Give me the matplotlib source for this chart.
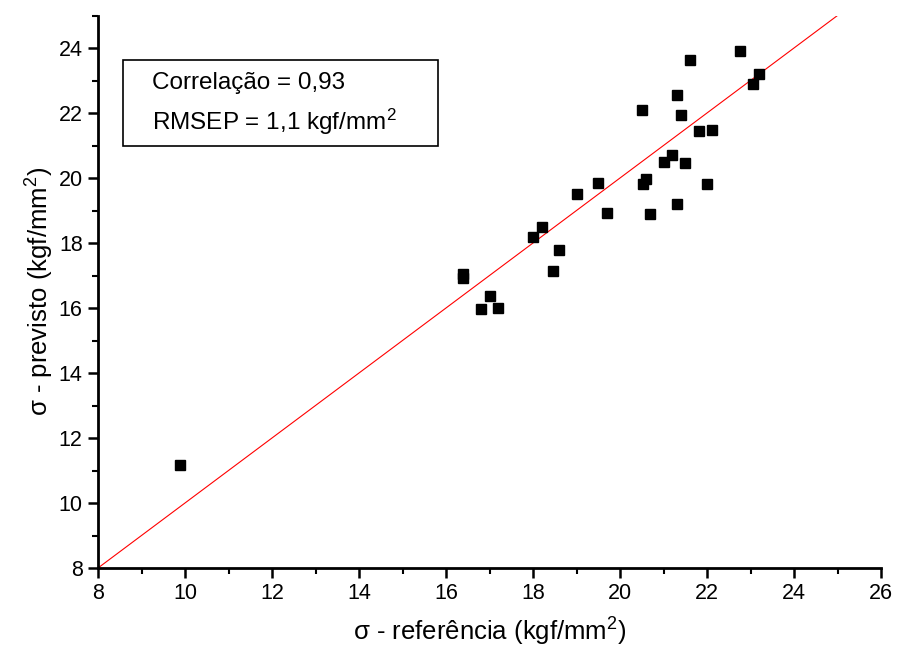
import matplotlib
matplotlib.use("Agg")
import matplotlib.pyplot as plt
from matplotlib.patches import Rectangle
from matplotlib.ticker import MultipleLocator

plt.rcParams['font.family'] = ['Liberation Sans', 'DejaVu Sans']
plt.rcParams['mathtext.fontset'] = 'custom'
plt.rcParams['mathtext.rm'] = 'Liberation Sans'
plt.rcParams['mathtext.it'] = 'Liberation Sans'

# sigma reference vs. predicted (kgf/mm2)
ref = [22.75, 21.60, 23.20, 23.05, 21.30, 20.50, 21.40, 21.81, 22.11, 21.20,
       21.00, 21.49, 20.60, 20.54, 22.00, 19.49, 19.00, 19.70, 20.70, 21.30,
       18.21, 18.00, 18.60, 18.45, 16.39, 16.39, 17.00, 16.80, 17.20, 9.88]
prev = [23.90, 23.64, 23.19, 22.89, 22.56, 22.10, 21.95, 21.46, 21.47, 20.72,
        20.49, 20.47, 19.97, 19.81, 19.81, 19.86, 19.50, 18.92, 18.88, 19.19,
        18.49, 18.18, 17.79, 17.14, 17.05, 16.93, 16.36, 15.98, 16.00, 11.17]
ideal = [8, 25]

fig = plt.figure(figsize=(8.97, 6.57), dpi=100)
ax = fig.add_axes([98/897, 1 - 568/657, 783/897, 552.5/657])

ax.plot(ideal, ideal, color='red', linewidth=0.8, zorder=2)
ax.plot(ref, prev, 's', color='black', markersize=7.2, zorder=3)

ax.set_xlim(8, 26)
ax.set_ylim(8, 25)
ax.xaxis.set_major_locator(MultipleLocator(2))
ax.xaxis.set_minor_locator(MultipleLocator(1))
ax.yaxis.set_major_locator(MultipleLocator(2))
ax.yaxis.set_minor_locator(MultipleLocator(1))
for s in ['top', 'right']:
    ax.spines[s].set_visible(False)
for s in ['left', 'bottom']:
    ax.spines[s].set_linewidth(2)
ax.tick_params(which='major', direction='out', length=7, width=1.8, labelsize=15.5, pad=4)
ax.tick_params(which='minor', direction='out', length=4, width=1.5)

ax.set_xlabel(r'σ - referência (kgf/mm$^2$)', fontsize=18.5, labelpad=8)
ax.set_ylabel(r'σ - previsto (kgf/mm$^2$)', fontsize=18.5, labelpad=2)

ax.add_patch(Rectangle((0.032, 0.764), 0.402, 0.155, transform=ax.transAxes,
                       fill=False, edgecolor='black', linewidth=1.2, clip_on=False))
ax.text(0.069, 0.878, 'Correlação = 0,93', transform=ax.transAxes,
        fontsize=17.5, va='center')
ax.text(0.069, 0.808, r'RMSEP = 1,1 kgf/mm$^2$', transform=ax.transAxes,
        fontsize=17.5, va='center')

fig.savefig('out.png', dpi=100)
